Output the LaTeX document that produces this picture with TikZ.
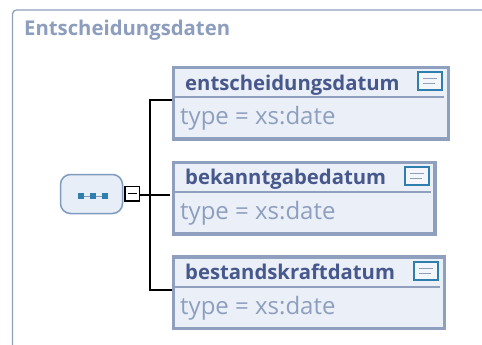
\documentclass[tikz,border=0pt]{standalone}
\usepackage{fontspec}
\setmainfont{Open Sans}
\definecolor{frameblue}{HTML}{8FA0BF}
\definecolor{titleblue}{HTML}{8C9DBD}
\definecolor{namedark}{HTML}{47588C}
\definecolor{fillpale}{HTML}{EAEFF8}
\definecolor{typegrey}{HTML}{8E9FBE}
\definecolor{seqedge}{HTML}{7F9CC0}
\definecolor{seqfill}{HTML}{E8EEF7}
\definecolor{iconblue}{HTML}{2E7FAE}
\definecolor{iconfill}{HTML}{F3F6FB}
\tikzset{
  x=1pt,y=-1pt,
  outerframe/.style={draw=frameblue,line width=1.3pt,rounded corners=4pt},
  elementbox/.style={draw=frameblue,line width=3.4pt,fill=fillpale,rectangle,inner sep=0pt,anchor=north west},
  divider/.style={draw=frameblue,line width=1.6pt},
  namelabel/.style={font=\fontsize{20.3}{24}\selectfont\bfseries,text=namedark,anchor=base west,inner sep=0pt},
  typelabel/.style={font=\fontsize{24}{28}\selectfont,text=typegrey,anchor=base west,inner sep=0pt},
  docicon/.style={draw=iconblue,line width=2pt,fill=iconfill,rectangle,minimum width=24pt,minimum height=18pt,inner sep=0pt},
  docline/.style={draw=frameblue,line width=1.5pt},
  connector/.style={draw=black,line width=1.2pt},
  seqnode/.style={draw=seqedge,line width=1.5pt,fill=seqfill,rounded corners=10pt,rectangle,minimum width=62pt,minimum height=39pt,inner sep=0pt},
  togglebox/.style={draw=black,line width=1.5pt,fill=white,rectangle,minimum width=14.5pt,minimum height=14.5pt,inner sep=0pt},
  seqdot/.style={fill=iconblue,rectangle,minimum size=6pt,inner sep=0pt},
}
\begin{document}
\begin{tikzpicture}
\useasboundingbox (0,0) rectangle (482,345);
\fill[white] (0,0) rectangle (482,345);
% outer frame, open to the right and bottom
\draw[outerframe] (12.5,346) -- (12.5,10) -- (483,10);
\node[anchor=base west,inner sep=0pt,font=\fontsize{20.3}{24}\selectfont\bfseries,text=titleblue] (title) at (24,36) {Entscheidungsdaten};
% element boxes
\node[elementbox,minimum width=275pt,minimum height=71.6pt] (boxa) at (171.7,65.7) {};
\node[elementbox,minimum width=261.6pt,minimum height=71.6pt] (boxb) at (171.7,160.7) {};
\node[elementbox,minimum width=271pt,minimum height=71.6pt] (boxc) at (171.7,255.2) {};
\draw[divider] (172,97) -- (444,97);
\draw[divider] (172,192) -- (431,192);
\draw[divider] (172,287) -- (440,287);
\node[namelabel] (namea) at (185,90.5) {entscheidungsdatum};
\node[namelabel] (nameb) at (185,184) {bekanntgabedatum};
\node[namelabel] (namec) at (185,279.5) {bestandskraftdatum};
\node[typelabel] (typea) at (180,124) {type = xs:date};
\node[typelabel] (typeb) at (180,219) {type = xs:date};
\node[typelabel] (typec) at (180,314) {type = xs:date};
% documentation icons
\node[docicon] (icona) at (430,81) {};
\node[docicon] (iconb) at (416.5,176) {};
\node[docicon] (iconc) at (426,271) {};
\foreach \n in {icona,iconb,iconc}{
  \draw[docline] ([xshift=-7pt,yshift=2.5pt]\n.center) -- ([xshift=7pt,yshift=2.5pt]\n.center);
  \draw[docline] ([xshift=-7pt,yshift=-2.5pt]\n.center) -- ([xshift=5pt,yshift=-2.5pt]\n.center);
}
% sequence compositor
\node[seqnode] (seq) at (91.5,194) {};
\node[seqdot] (da) at (81,196) {};
\node[seqdot] (db) at (92.7,196) {};
\node[seqdot] (dc) at (104.7,196) {};
\draw[draw=seqedge,line width=1pt] (da) -- (db) -- (dc);
\node[togglebox] (tog) at (132,193.5) {};
\draw[black,line width=1.5pt] ([xshift=-4.5pt]tog.center) -- ([xshift=4.5pt]tog.center);
% connectors
\coordinate (spine) at (150,195);
\draw[connector] (tog.east|-spine) -- (spine);
\draw[connector] (spine) -- (170,195);
\draw[connector] (boxa.west|-0,100) -- (150,100) -- (150,290) -- (boxc.west|-0,290);
\end{tikzpicture}
\end{document}
